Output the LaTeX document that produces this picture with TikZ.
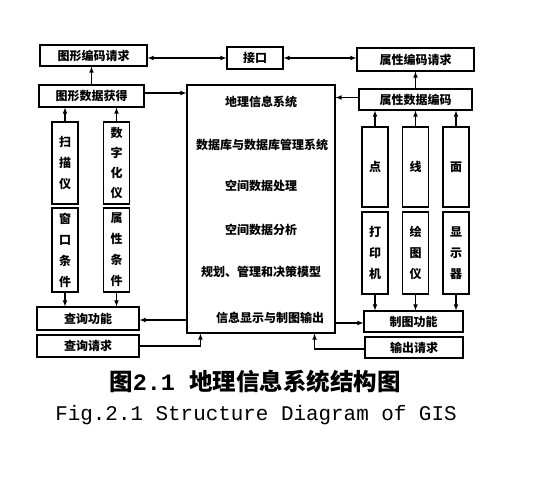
\documentclass[tikz,border=0pt]{standalone}
\usepackage{fontspec}
\newfontfamily\cjk{Noto Sans CJK SC}
\newfontfamily\capmono{Liberation Mono}
\begin{document}
\begin{tikzpicture}[x=1pt,y=-1pt,>=latex]
        \tikzstyle{box}=[draw,line width=1.1pt,inner sep=0pt,font=\cjk\bfseries\fontsize{12}{21}\selectfont]
        \tikzstyle{col}=[box,align=center,minimum width=26pt]
        \tikzstyle{txt}=[inner sep=0pt,font=\cjk\bfseries\fontsize{12}{14}\selectfont]
        \tikzstyle{link}=[line width=1.1pt]
        \useasboundingbox (0,0) rectangle (559,490);
        % top row
        \node[box,minimum width=107pt,minimum height=21pt] (txqq) at (93.5,55.5) {图形编码请求};
        \node[box,minimum width=56pt,minimum height=22pt] (jk) at (255,58) {接口};
        \node[box,minimum width=117pt,minimum height=23pt] (sxqq) at (415.5,59.5) {属性编码请求};
        \node[box,minimum width=105pt,minimum height=22pt] (txhd) at (91.5,96) {图形数据获得};
        \node[box,minimum width=113pt,minimum height=21pt] (sxbm) at (415.5,99.5) {属性数据编码};
        % the system in the middle
        \node[box,minimum width=148pt,minimum height=248pt] (gis) at (261,209) {};
        \node[txt] (dl) at (261,102) {地理信息系统};
        \node[txt] (sjk) at (262,145) {数据库与数据库管理系统};
        \node[txt] (cl) at (261,186) {空间数据处理};
        \node[txt] (fx) at (261,230) {空间数据分析};
        \node[txt] (gh) at (261,272) {规划、管理和决策模型};
        \node[txt] (xs) at (270,318) {信息显示与制图输出};
        % left side
        \node[col,minimum height=82pt] (smy) at (65,163) {扫\\描\\仪};
        \node[col,minimum height=82pt,font=\cjk\bfseries\fontsize{12}{20}\selectfont] (szhy) at (116.5,163) {数\\字\\化\\仪};
        \node[col,minimum height=84pt] (ck) at (65,250) {窗\\口\\条\\件};
        \node[col,minimum height=84pt] (sxtj) at (116.5,250) {属\\性\\条\\件};
        \node[box,minimum width=102pt,minimum height=23pt] (cxgn) at (88,318.5) {查询功能};
        \node[box,minimum width=102pt,minimum height=22pt] (cxqq) at (88,346) {查询请求};
        % right side
        \node[col,minimum height=80pt] (dian) at (375,167) {点};
        \node[col,minimum height=80pt] (xian) at (415.5,167) {线};
        \node[col,minimum height=80pt] (mian) at (456,167) {面};
        \node[col,minimum height=82pt] (dyj) at (375,253) {打\\印\\机};
        \node[col,minimum height=82pt] (hty) at (415.5,253) {绘\\图\\仪};
        \node[col,minimum height=82pt] (xsq) at (456,253) {显\\示\\器};
        \node[box,minimum width=99pt,minimum height=21pt] (ztgn) at (413.5,321.5) {制图功能};
        \node[box,minimum width=98pt,minimum height=21pt] (scqq) at (414,347.5) {输出请求};
        % connectors
        \draw[link,<->] (jk.west) -- (jk.west -| txqq.east);
        \draw[link,<->] (jk.east) -- (jk.east -| sxqq.west);
        \draw[link,->] (txhd.north) -- (txhd.north |- txqq.south);
        \draw[link,->] (sxbm.north) -- (sxbm.north |- sxqq.south);
        \draw[link,->] ([yshift=3pt]txhd.east) -- ([yshift=3pt]txhd.east -| gis.west);
        \draw[link,->] ([yshift=2pt]sxbm.west) -- ([yshift=2pt]sxbm.west -| gis.east);
        \draw[link,->] (smy.north) -- (smy.north |- txhd.south);
        \draw[link,->] (szhy.north) -- (szhy.north |- txhd.south);
        \draw[link,->] (ck.south) -- (ck.south |- cxgn.north);
        \draw[link,->] (sxtj.south) -- (sxtj.south |- cxgn.north);
        \draw[link,->] (dian.north) -- (dian.north |- sxbm.south);
        \draw[link,->] (xian.north) -- (xian.north |- sxbm.south);
        \draw[link,->] (mian.north) -- (mian.north |- sxbm.south);
        \draw[link,->] (dyj.south) -- (dyj.south |- ztgn.north);
        \draw[link,->] (hty.south) -- (hty.south |- ztgn.north);
        \draw[link,->] (xsq.south) -- (xsq.south |- ztgn.north);
        \draw[link,->] ([yshift=-1.5pt]cxgn.east -| gis.west) -- ([yshift=-1.5pt]cxgn.east);
        \draw[link,->] ([yshift=-1.5pt]ztgn.west -| gis.east) -- ([yshift=-1.5pt]ztgn.west);
        \draw[link,->] (cxqq.east) -| ([xshift=14pt]gis.south west);
        \draw[link,->] ([yshift=-1.5pt]scqq.west) -| ([xshift=-21pt]gis.south east);
        % caption
        \node[inner sep=0pt,font=\cjk\bfseries\fontsize{23.5}{26}\selectfont] (cap) at (255,382) {图{\capmono\bfseries 2.1 }地理信息系统结构图};
        \node[inner sep=0pt,font=\capmono\fontsize{20.9}{24}\selectfont] (capen) at (256,415) {Fig.2.1 Structure Diagram of GIS};
\end{tikzpicture}
\end{document}
